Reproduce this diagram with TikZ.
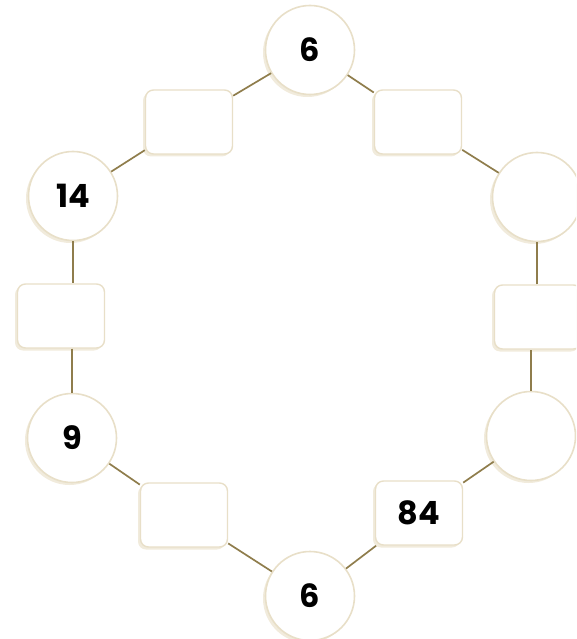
\documentclass[tikz,border=0pt]{standalone}
\usepackage{fontspec}
\setmainfont{Poppins}
\usetikzlibrary{shadows}
\definecolor{rim}{HTML}{E8DFC8}
\definecolor{shade}{HTML}{F1EBDC}
\definecolor{link}{HTML}{8F7D4C}
\definecolor{paper}{HTML}{FFFFFF}
\tikzset{
  numcircle/.style={circle, draw=rim, line width=1.6pt, fill=paper, minimum size=89pt, inner sep=0pt,
    font=\fontsize{32}{32}\selectfont\bfseries,
    drop shadow={shadow xshift=-2.5pt, shadow yshift=-2.5pt, fill=shade, opacity=1}},
  numbox/.style={rectangle, rounded corners=8pt, draw=rim, line width=1.4pt, fill=paper,
    minimum width=87pt, minimum height=64pt, inner sep=0pt,
    font=\fontsize{32}{32}\selectfont\bfseries,
    drop shadow={shadow xshift=-2.5pt, shadow yshift=-2.5pt, fill=shade, opacity=1}},
  linkline/.style={draw=link, line width=1.7pt}
}
\begin{document}
\begin{tikzpicture}[x=1pt,y=-1pt]
\useasboundingbox (0,0) rectangle (576,639);
\clip (0,0) rectangle (576,639);
% circles
\node[numcircle] (ctop) at (310,50) {6};
\node[numcircle] (cl1) at (73,196) {14};
\node[numcircle] (cr1) at (537,197) {};
\node[numcircle] (cl2) at (72,438) {9};
\node[numcircle] (cr2) at (531,436) {};
\node[numcircle] (cbot) at (310,596) {6};
% boxes
\node[numbox] (btl) at (189,122) {};
\node[numbox] (btr) at (418,122) {};
\node[numbox] (bl) at (61,316) {};
\node[numbox] (br) at (538,317) {};
\node[numbox] (bbl) at (184,515) {};
\node[numbox] (bbr) at (419,513) {84};
% connectors
\draw[linkline] (ctop) -- (btl);
\draw[linkline] (btl) -- (cl1);
\draw[linkline] (cl1.south) -- (bl.north -| cl1.south);
\draw[linkline] (bl.south -| cl2.north) -- (cl2.north);
\draw[linkline] (cl2) -- (bbl);
\draw[linkline] (bbl) -- (cbot);
\draw[linkline] (cbot) -- (bbr);
\draw[linkline] (bbr) -- (cr2);
\draw[linkline] (cr2.north) -- (br.south -| cr2.north);
\draw[linkline] (br.north -| cr1.south) -- (cr1.south);
\draw[linkline] (cr1) -- (btr);
\draw[linkline] (btr) -- (ctop);
\end{tikzpicture}
\end{document}
